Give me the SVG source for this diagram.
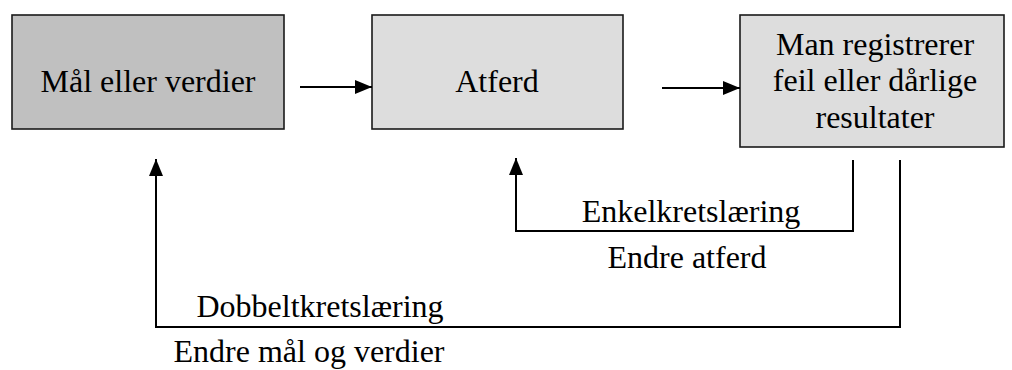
<svg xmlns="http://www.w3.org/2000/svg" width="1012" height="370" viewBox="0 0 1012 370">
<style>
.box{stroke:#1a1a1a;stroke-width:1.6}
.t{font-family:"Liberation Serif","Times New Roman",serif;font-size:32px;fill:#000;text-anchor:middle}
.c{fill:none;stroke:#000;stroke-width:2}
</style>
<defs>
<marker id="ah" markerUnits="userSpaceOnUse" markerWidth="18" markerHeight="14" refX="17" refY="7" orient="auto">
<path d="M0,0 L17,7 L0,14 Z" fill="#000"/>
</marker>
</defs>
<rect width="1012" height="370" fill="#fff"/>
<g id="node-maal">
<rect class="box" x="12" y="15" width="272" height="114" fill="#c0c0c0"/>
<text class="t" x="148" y="92">Mål eller verdier</text>
</g>
<g id="node-atferd">
<rect class="box" x="372" y="15" width="251" height="114" fill="#dddddd"/>
<text class="t" x="497" y="92">Atferd</text>
</g>
<g id="node-feil">
<rect class="box" x="740" y="15" width="264" height="132" fill="#dddddd"/>
<text class="t" x="875" y="55">Man registrerer</text>
<text class="t" x="875" y="91">feil eller dårlige</text>
<text class="t" x="875" y="128">resultater</text>
</g>
<g id="connectors">
<line class="c" x1="300" y1="87" x2="372" y2="87" marker-end="url(#ah)"/>
<line class="c" x1="662" y1="88" x2="740" y2="88" marker-end="url(#ah)"/>
<polyline class="c" points="853,160 853,231 516,231 516,158" marker-end="url(#ah)"/>
<polyline class="c" points="900,160 900,327 156,327 156,159" marker-end="url(#ah)"/>
</g>
<g id="labels">
<text class="t" x="691" y="222">Enkelkretslæring</text>
<text class="t" x="687" y="268">Endre atferd</text>
<text class="t" x="320" y="317">Dobbeltkretslæring</text>
<text class="t" x="309" y="362">Endre mål og verdier</text>
</g>
</svg>
